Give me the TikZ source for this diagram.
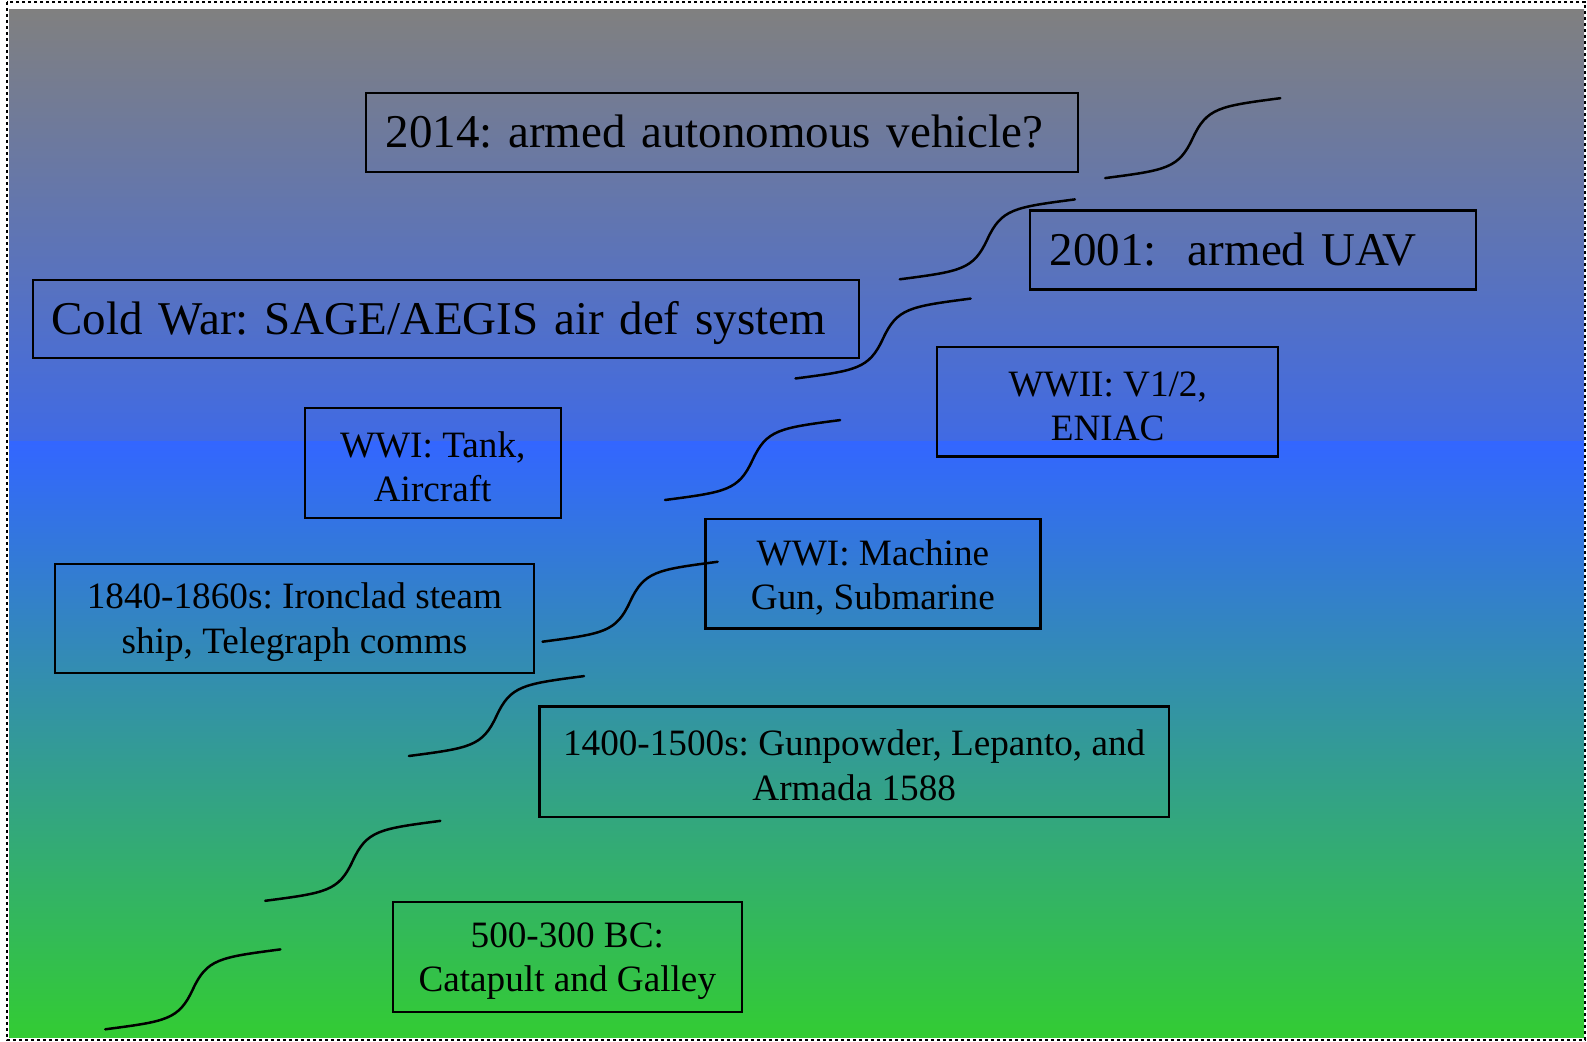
\documentclass[tikz,border=0pt]{standalone}
\usepackage{fontspec}
\setmainfont{Liberation Serif}
\usetikzlibrary{calc}
\frenchspacing
\definecolor{topgray}{RGB}{128,128,128}
\definecolor{midblueA}{RGB}{64,106,228}
\definecolor{midblueB}{RGB}{51,102,255}
\definecolor{botgreen}{RGB}{51,204,51}
\newcommand\stepconn[2]{%
  \draw[stepcurve] (#1) .. controls ($(#1)+(61.25,-8)$) and ($(#1)+(73.5,-9.6)$) .. ($(#1)!0.5!(#2)$)
    .. controls ($(#2)+(-73.5,9.6)$) and ($(#2)+(-61.25,8)$) .. (#2);}
\newcommand\firststrut{\rule{0pt}{16.7pt}}
\begin{document}
\begin{tikzpicture}[x=0.5pt,y=-0.5pt,
  bigbox/.style={draw, line width=1.1pt, inner ysep=0pt, align=left,
    text height=15.4pt, text depth=0pt,
    font=\fontsize{23.5}{28}\selectfont},
  smallbox/.style={draw, line width=1.1pt, inner sep=0pt, align=center,
    font=\fontsize{18.6}{22.25}\selectfont},
  stepcurve/.style={line width=1.25pt, line cap=round}
]
\useasboundingbox (0,0) rectangle (1587,1042);
% background
\shade[top color=topgray, bottom color=midblueA] (9,10) rectangle (1584,442);
\shade[top color=midblueB, bottom color=botgreen] (9,442) rectangle (1584,1038);
\draw[line width=1.3pt, dash pattern=on 1.3pt off 1.7pt] (7,2) rectangle (1585,1040);

% boxes
\node[bigbox, minimum width=355.75pt, minimum height=39.5pt, text width=336.5pt, inner xsep=9.6pt]
  (b1) at (722.1,132.6) {\mbox{2014: armed autonomous vehicle?}};
\node[bigbox, minimum width=222.65pt, minimum height=39.5pt, text width=203.4pt, inner xsep=9.6pt]
  (b2) at (1253,250) {\mbox{2001: \ armed UAV}};
\node[bigbox, minimum width=412.95pt, minimum height=38.95pt, text width=394.7pt, inner xsep=9.1pt]
  (b3) at (446.3,319.3) {\mbox{Cold War: SAGE/AEGIS air def system}};
\node[smallbox, minimum width=170.55pt, minimum height=54.65pt] (b4) at (1107.7,401.8) {\firststrut WWII: V1/2,\\ENIAC};
\node[smallbox, minimum width=128pt, minimum height=55.15pt] (b5) at (432.7,463) {\firststrut WWI: Tank,\\Aircraft};
\node[smallbox, minimum width=167.5pt, minimum height=54.65pt] (b6) at (872.9,573.9) {\firststrut WWI: Machine\\Gun, Submarine};
\node[smallbox, minimum width=239.85pt, minimum height=54.65pt] (b7) at (294.5,618.4) {\firststrut 1840-1860s: Ironclad steam\\ship, Telegraph comms};
\node[smallbox, minimum width=314.8pt, minimum height=55.15pt] (b8) at (854.2,761.6) {\firststrut 1400-1500s: Gunpowder, Lepanto, and\\Armada 1588};
\node[smallbox, minimum width=174.6pt, minimum height=55.15pt] (b9) at (567.3,957) {\firststrut 500-300 BC:\\Catapult and Galley};

% step curves
\coordinate (s1) at (1105.2,178.1); \coordinate (e1) at (1280.3,98.2);
\coordinate (s2) at (899.8,279.3);  \coordinate (e2) at (1074.9,199.4);
\coordinate (s3) at (795.5,378.5);  \coordinate (e3) at (970.6,298.6);
\coordinate (s4) at (665.0,500.0);  \coordinate (e4) at (840.1,420.1);
\coordinate (s5) at (542.5,641.7);  \coordinate (e5) at (717.6,561.8);
\coordinate (s6) at (408.9,756.0);  \coordinate (e6) at (584.0,676.1);
\coordinate (s7) at (265.2,900.8);  \coordinate (e7) at (440.3,820.9);
\coordinate (s8) at (105.3,1029.3); \coordinate (e8) at (280.4,949.4);
\stepconn{s1}{e1}
\stepconn{s2}{e2}
\stepconn{s3}{e3}
\stepconn{s4}{e4}
\stepconn{s5}{e5}
\stepconn{s6}{e6}
\stepconn{s7}{e7}
\stepconn{s8}{e8}
\end{tikzpicture}
\end{document}
